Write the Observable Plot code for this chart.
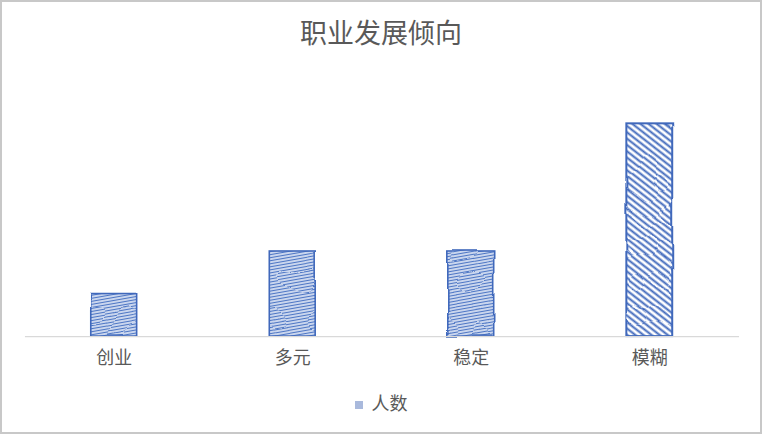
<!DOCTYPE html>
<html>
<head>
<meta charset="utf-8">
<script src="https://cdn.jsdelivr.net/npm/d3@7"></script>
<script src="https://cdn.jsdelivr.net/npm/@observablehq/plot@0.6"></script>
<style>
  html, body { margin: 0; padding: 0; background: #fff; }
  #frame { position: relative; width: 762px; height: 434px; box-sizing: border-box; border: 2px solid #c8c8c8; overflow: hidden; }
  #title { position: absolute; left: 0; right: 0; top: 12px; text-align: center; font: 27px "Noto Sans CJK SC", sans-serif; color: #595959; line-height: 36px; }
  #chart { position: absolute; left: -2px; top: -2px; }
  #legend { position: absolute; left: 0; right: 0; top: 387px; text-align: center; font: 18px "Noto Sans CJK SC", sans-serif; color: #595959; line-height: 26px; }
  #legend .sw { display: inline-block; width: 8px; height: 8px; background: #a9b9dc; margin-right: 9px; vertical-align: 1px; }
</style>
</head>
<body>
<div id="frame">
  <div id="title">职业发展倾向</div>
  <div id="chart"></div>
  <div id="legend"><span class="sw"></span>人数</div>
</div>
<script>
const categories = ["创业", "多元", "稳定", "模糊"];
const counts = [1, 2, 2, 5];
const seriesName = "人数";

const data = categories.map((c, i) => ({cat: c, value: counts[i]}));

const svg = Plot.plot({
  width: 762,
  height: 400,
  marginTop: 81,
  marginBottom: 63,
  marginLeft: 25,
  marginRight: 21,
  style: {background: "transparent", fontFamily: "'Noto Sans CJK SC', sans-serif", color: "#595959", overflow: "visible"},
  x: {domain: categories, paddingInner: 0.743, paddingOuter: 0.3715, label: null},
  y: {domain: [0, 6], axis: null},
  marks: [
    Plot.barY(data, {x: "cat", y: "value", filter: d => d.cat !== "模糊", fill: "url(#hatchA)", stroke: "#3f68bb", strokeWidth: 1.6}),
    Plot.barY(data, {x: "cat", y: "value", filter: d => d.cat === "模糊", fill: "url(#hatchB)", stroke: "#3f68bb", strokeWidth: 2}),
    Plot.ruleY([0], {stroke: "#d9d9d9", strokeWidth: 1.3}),
    Plot.axisX({tickSize: 0, tickPadding: 15, fontSize: 18, fill: "#595959", label: null})
  ]
});

const s = d3.select(svg);
const defs = s.insert("defs", ":first-child");
const pa = defs.append("pattern").attr("id", "hatchA").attr("patternUnits", "userSpaceOnUse")
  .attr("width", 40).attr("height", 3).attr("patternTransform", "rotate(-10)");
pa.append("rect").attr("width", 40).attr("height", 3).attr("fill", "#f4f7fc");
pa.append("line").attr("x1", 0).attr("x2", 40).attr("y1", 1.5).attr("y2", 1.5).attr("stroke", "#4d76c4").attr("stroke-width", 1.6);
const pb = defs.append("pattern").attr("id", "hatchB").attr("patternUnits", "userSpaceOnUse")
  .attr("width", 40).attr("height", 5).attr("patternTransform", "rotate(38)");
pb.append("rect").attr("width", 40).attr("height", 5).attr("fill", "#fff");
pb.append("line").attr("x1", 0).attr("x2", 40).attr("y1", 2.5).attr("y2", 2.5).attr("stroke", "#3f68bb").attr("stroke-width", 1.9);
const f = defs.append("filter").attr("id", "rough").attr("filterUnits", "userSpaceOnUse")
  .attr("x", 0).attr("y", 0).attr("width", 762).attr("height", 400);
f.append("feTurbulence").attr("type", "fractalNoise").attr("baseFrequency", 0.03).attr("numOctaves", 1).attr("seed", 7).attr("result", "n");
f.append("feDisplacementMap").attr("in", "SourceGraphic").attr("in2", "n").attr("scale", 4).attr("xChannelSelector", "R").attr("yChannelSelector", "G");
s.selectAll("g[aria-label=bar]").attr("filter", "url(#rough)");

document.getElementById("chart").appendChild(svg);
</script>
</body>
</html>
